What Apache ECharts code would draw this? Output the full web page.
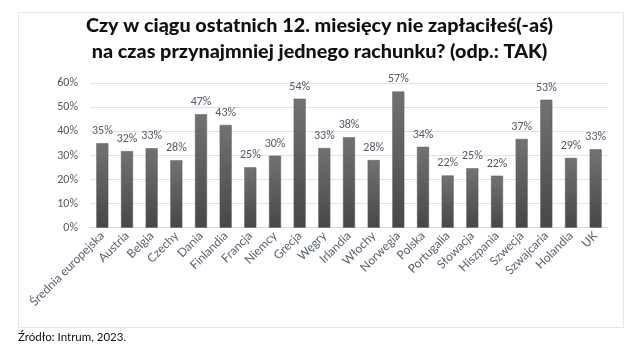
<!DOCTYPE html>
<html>
<head>
<meta charset="utf-8">
<script src="https://cdn.jsdelivr.net/npm/echarts@6/dist/echarts.min.js"></script>
<style>
html,body{margin:0;padding:0;background:#fff;}
#chart{width:639px;height:350px;}
</style>
</head>
<body>
<div id="chart"></div>
<script>
const titleLines = ["Czy w ciągu ostatnich 12. miesięcy nie zapłaciłeś(-aś)", "na czas przynajmniej jednego rachunku? (odp.: TAK)"];
const sourceText = "Źródło: Intrum, 2023.";
const categories = ["Średnia europejska","Austria","Belgia","Czechy","Dania","Finlandia","Francja","Niemcy","Grecja","Węgry","Irlandia","Włochy","Norwegia","Polska","Portugalia","Słowacja","Hiszpania","Szwecja","Szwajcaria","Holandia","UK"];
const values = [35.1, 31.8, 33.0, 28.0, 47.1, 42.7, 25.1, 29.9, 53.6, 33.1, 37.6, 28.1, 56.6, 33.6, 21.7, 24.7, 21.6, 36.9, 53.2, 29.0, 32.6];
const yTicks = [0, 10, 20, 30, 40, 50, 60];

const chart = echarts.init(document.getElementById('chart'));
chart.setOption({
  backgroundColor: '#ffffff',
  animation: false,
  title: {
    text: titleLines.join('\n'),
    left: 'center',
    top: 8,
    textStyle: {
      fontFamily: 'Lato',
      fontWeight: 900,
      fontSize: 19.8,
      lineHeight: 26,
      color: '#111111'
    }
  },
  graphic: [
    {
      type: 'rect',
      shape: {x: 18.5, y: 12.5, width: 605, height: 315},
      style: {fill: 'none', stroke: '#e6e6e6', lineWidth: 1},
      silent: true,
      z: -1
    },
    {
      type: 'text',
      left: 18,
      top: 331,
      style: {text: sourceText, fontFamily: 'Lato', fontSize: 11.5, fill: '#111111'}
    }
  ],
  grid: {left: 90, right: 31, top: 83.3, bottom: 122.3, containLabel: false},
  xAxis: {
    type: 'category',
    data: categories,
    axisLine: {show: true, lineStyle: {color: '#d9d9d9'}},
    axisTick: {show: false},
    axisLabel: {
      rotate: 45,
      interval: 0,
      margin: 6,
      fontFamily: 'Lato',
      fontSize: 12,
      color: '#5a6270'
    }
  },
  yAxis: {
    type: 'value',
    min: yTicks[0],
    max: yTicks[yTicks.length - 1],
    interval: 10,
    axisLine: {show: false},
    axisTick: {show: false},
    splitLine: {lineStyle: {color: '#e3e3e3', width: 1}},
    axisLabel: {
      margin: 12,
      fontFamily: 'Calibri, Carlito, "Liberation Sans", sans-serif',
      fontSize: 12,
      color: '#595959',
      formatter: v => v + '%'
    }
  },
  series: [{
    type: 'bar',
    data: values,
    barWidth: 12,
    itemStyle: {
      color: new echarts.graphic.LinearGradient(0, 0, 0, 1, [
        {offset: 0, color: '#727272'},
        {offset: 1, color: '#474747'}
      ]),
      borderColor: '#5a5a5a',
      borderWidth: 0.5
    },
    label: {
      show: true,
      position: 'top',
      distance: 6,
      fontFamily: 'Calibri, Carlito, "Liberation Sans", sans-serif',
      fontSize: 12,
      color: '#4f5866',
      formatter: p => Math.round(p.value) + '%'
    }
  }]
});
</script>
</body>
</html>
